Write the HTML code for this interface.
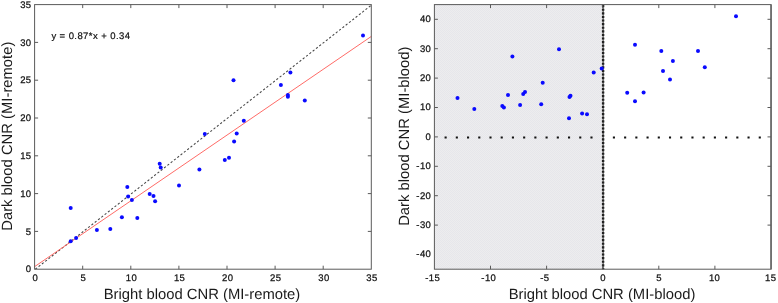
<!DOCTYPE html>
<html><head><meta charset="utf-8"><title>CNR scatter plots</title>
<style>
html,body{margin:0;padding:0;background:#fff;}
body{width:778px;height:303px;overflow:hidden;}
svg{display:block;text-rendering:geometricPrecision;font-family:"Liberation Sans",Arial,sans-serif;}
.t{font-size:9.5px;fill:#111;letter-spacing:0.4px;stroke:#111;stroke-width:0.25px;}
.e{font-size:9.5px;fill:#111;letter-spacing:0.42px;stroke:#111;stroke-width:0.2px;}
.l{font-size:14.8px;fill:#1a1a1a;}
</style></head><body>
<svg width="778" height="303" viewBox="0 0 778 303">
<defs><pattern id="gp" width="2" height="2" patternUnits="userSpaceOnUse"><rect width="2" height="2" fill="#ededee"/><rect width="1" height="1" fill="#e6e6eb"/><rect x="1" y="1" width="1" height="1" fill="#e6e6eb"/></pattern></defs>
<rect x="0" y="0" width="778" height="303" fill="#fff"/>
<g>
<line x1="35.3" y1="269.2" x2="371" y2="5.4" stroke="#444" stroke-width="1.05" stroke-dasharray="2.2 2"/>
<line x1="34.6" y1="266.63" x2="371.3" y2="36.43" stroke="#ff5a56" stroke-width="0.9"/>
<rect x="34.6" y="4.6" width="336.7" height="264.6" fill="none" stroke="#5a5a5a" stroke-width="1"/>
<path d="M82.7 269.2v-3.5M82.7 4.6v3.5M34.6 231.4h3.5M371.3 231.4h-3.5M130.8 269.2v-3.5M130.8 4.6v3.5M34.6 193.6h3.5M371.3 193.6h-3.5M178.9 269.2v-3.5M178.9 4.6v3.5M34.6 155.8h3.5M371.3 155.8h-3.5M227 269.2v-3.5M227 4.6v3.5M34.6 118h3.5M371.3 118h-3.5M275.1 269.2v-3.5M275.1 4.6v3.5M34.6 80.2h3.5M371.3 80.2h-3.5M323.2 269.2v-3.5M323.2 4.6v3.5M34.6 42.4h3.5M371.3 42.4h-3.5" stroke="#5a5a5a" stroke-width="1" fill="none"/>
<text class="t" x="35.3" y="280.7" text-anchor="middle">0</text>
<text class="t" x="31.5" y="272.4" text-anchor="end">0</text>
<text class="t" x="83.4" y="280.7" text-anchor="middle">5</text>
<text class="t" x="31.5" y="234.6" text-anchor="end">5</text>
<text class="t" x="131.5" y="280.7" text-anchor="middle">10</text>
<text class="t" x="31.5" y="196.8" text-anchor="end">10</text>
<text class="t" x="179.6" y="280.7" text-anchor="middle">15</text>
<text class="t" x="31.5" y="159" text-anchor="end">15</text>
<text class="t" x="227.7" y="280.7" text-anchor="middle">20</text>
<text class="t" x="31.5" y="121.2" text-anchor="end">20</text>
<text class="t" x="275.8" y="280.7" text-anchor="middle">25</text>
<text class="t" x="31.5" y="83.4" text-anchor="end">25</text>
<text class="t" x="323.9" y="280.7" text-anchor="middle">30</text>
<text class="t" x="31.5" y="45.6" text-anchor="end">30</text>
<text class="t" x="372" y="280.7" text-anchor="middle">35</text>
<text class="t" x="31.5" y="7.8" text-anchor="end">35</text>
<circle cx="70.7" cy="208" r="2" fill="#0a0aff"/>
<circle cx="70.7" cy="241.2" r="2" fill="#0a0aff"/>
<circle cx="76.1" cy="238.1" r="2" fill="#0a0aff"/>
<circle cx="96.9" cy="229.9" r="2" fill="#0a0aff"/>
<circle cx="110.3" cy="229.1" r="2" fill="#0a0aff"/>
<circle cx="121.9" cy="217.2" r="2" fill="#0a0aff"/>
<circle cx="137.3" cy="218" r="2" fill="#0a0aff"/>
<circle cx="127.3" cy="187.1" r="2" fill="#0a0aff"/>
<circle cx="128.1" cy="196.4" r="2" fill="#0a0aff"/>
<circle cx="131.9" cy="200" r="2" fill="#0a0aff"/>
<circle cx="149.7" cy="194.1" r="2" fill="#0a0aff"/>
<circle cx="153.5" cy="195.9" r="2" fill="#0a0aff"/>
<circle cx="155.1" cy="201.3" r="2" fill="#0a0aff"/>
<circle cx="159.7" cy="163.7" r="2" fill="#0a0aff"/>
<circle cx="160.7" cy="167.6" r="2" fill="#0a0aff"/>
<circle cx="179" cy="185.6" r="2" fill="#0a0aff"/>
<circle cx="199.4" cy="169.4" r="2" fill="#0a0aff"/>
<circle cx="204.8" cy="133.9" r="2" fill="#0a0aff"/>
<circle cx="224.8" cy="160.1" r="2" fill="#0a0aff"/>
<circle cx="229" cy="157.8" r="2" fill="#0a0aff"/>
<circle cx="234.1" cy="141.6" r="2" fill="#0a0aff"/>
<circle cx="236.7" cy="133.6" r="2" fill="#0a0aff"/>
<circle cx="363" cy="35.5" r="2" fill="#0a0aff"/>
<circle cx="290.4" cy="72.6" r="2" fill="#0a0aff"/>
<circle cx="233.5" cy="80.3" r="2" fill="#0a0aff"/>
<circle cx="280.9" cy="85" r="2" fill="#0a0aff"/>
<circle cx="287.9" cy="95" r="2" fill="#0a0aff"/>
<circle cx="287.9" cy="96.8" r="2" fill="#0a0aff"/>
<circle cx="304.8" cy="100.4" r="2" fill="#0a0aff"/>
<circle cx="243.8" cy="120.7" r="2" fill="#0a0aff"/>
<text class="e" x="51.4" y="39.4">y = 0.87*x + 0.34</text>
<text class="l" x="202" y="298.6" text-anchor="middle">Bright blood CNR (MI-remote)</text>
<text class="l" transform="translate(12 136.2) rotate(-90)" text-anchor="middle">Dark blood CNR (MI-remote)</text>
</g>
<g>
<rect x="434.4" y="4.6" width="167.5" height="264.6" fill="url(#gp)"/>
<path d="M444.57 137.5h2.1M455.79 137.5h2.1M467.01 137.5h2.1M478.23 137.5h2.1M489.45 137.5h2.1M500.67 137.5h2.1M511.89 137.5h2.1M523.11 137.5h2.1M534.33 137.5h2.1M545.55 137.5h2.1M556.77 137.5h2.1M567.99 137.5h2.1M579.21 137.5h2.1M590.43 137.5h2.1M612.87 137.5h2.1M624.09 137.5h2.1M635.31 137.5h2.1M646.53 137.5h2.1M657.75 137.5h2.1M668.97 137.5h2.1M680.19 137.5h2.1M691.41 137.5h2.1M702.63 137.5h2.1M713.85 137.5h2.1M725.07 137.5h2.1M736.29 137.5h2.1M747.51 137.5h2.1M758.73 137.5h2.1" stroke="#111" stroke-width="2.1" fill="none"/>
<line x1="603.1" y1="5.1" x2="603.1" y2="269.2" stroke="#111" stroke-width="2.4" stroke-dasharray="2.1 1.5"/>
<line x1="603.1" y1="5.1" x2="603.1" y2="269.2" stroke="#333" stroke-width="1"/>
<rect x="434.4" y="4.6" width="336.6" height="264.6" fill="none" stroke="#5a5a5a" stroke-width="1"/>
<line x1="771.1" y1="4.6" x2="771.1" y2="269.2" stroke="#666" stroke-width="1.5"/>
<path d="M490.5 269.2v-3.5M490.5 4.6v3.5M546.6 269.2v-3.5M546.6 4.6v3.5M602.7 269.2v-3.5M602.7 4.6v3.5M658.8 269.2v-3.5M658.8 4.6v3.5M714.9 269.2v-3.5M714.9 4.6v3.5M434.4 19.3h3.5M771 19.3h-3.5M434.4 48.7h3.5M771 48.7h-3.5M434.4 78.1h3.5M771 78.1h-3.5M434.4 107.5h3.5M771 107.5h-3.5M434.4 136.9h3.5M771 136.9h-3.5M434.4 166.3h3.5M771 166.3h-3.5M434.4 195.7h3.5M771 195.7h-3.5M434.4 225.1h3.5M771 225.1h-3.5" stroke="#5a5a5a" stroke-width="1" fill="none"/>
<text class="t" x="432.7" y="280.7" text-anchor="middle">-15</text>
<text class="t" x="488.8" y="280.7" text-anchor="middle">-10</text>
<text class="t" x="544.9" y="280.7" text-anchor="middle">-5</text>
<text class="t" x="603.2" y="280.7" text-anchor="middle">0</text>
<text class="t" x="659.1" y="280.7" text-anchor="middle">5</text>
<text class="t" x="714.6" y="280.7" text-anchor="middle">10</text>
<text class="t" x="770.7" y="280.7" text-anchor="middle">15</text>
<text class="t" x="431.3" y="22.2" text-anchor="end">40</text>
<text class="t" x="431.3" y="51.6" text-anchor="end">30</text>
<text class="t" x="431.3" y="81" text-anchor="end">20</text>
<text class="t" x="431.3" y="110.4" text-anchor="end">10</text>
<text class="t" x="431.3" y="139.8" text-anchor="end">0</text>
<text class="t" x="431.3" y="169.2" text-anchor="end">-10</text>
<text class="t" x="431.3" y="198.6" text-anchor="end">-20</text>
<text class="t" x="431.3" y="228" text-anchor="end">-30</text>
<text class="t" x="431.3" y="257.4" text-anchor="end">-40</text>
<circle cx="512.4" cy="56.4" r="2" fill="#0a0aff"/>
<circle cx="559" cy="49.2" r="2" fill="#0a0aff"/>
<circle cx="593.7" cy="72.6" r="2" fill="#0a0aff"/>
<circle cx="601.7" cy="68.6" r="2" fill="#0a0aff"/>
<circle cx="457.5" cy="98.1" r="2" fill="#0a0aff"/>
<circle cx="474.3" cy="108.9" r="2" fill="#0a0aff"/>
<circle cx="502.3" cy="106.1" r="2" fill="#0a0aff"/>
<circle cx="503.9" cy="107.4" r="2" fill="#0a0aff"/>
<circle cx="508" cy="95" r="2" fill="#0a0aff"/>
<circle cx="520.1" cy="105" r="2" fill="#0a0aff"/>
<circle cx="523.2" cy="94" r="2" fill="#0a0aff"/>
<circle cx="525" cy="91.9" r="2" fill="#0a0aff"/>
<circle cx="541.2" cy="104.3" r="2" fill="#0a0aff"/>
<circle cx="542.7" cy="82.7" r="2" fill="#0a0aff"/>
<circle cx="569.5" cy="97.1" r="2" fill="#0a0aff"/>
<circle cx="570.5" cy="95.8" r="2" fill="#0a0aff"/>
<circle cx="569" cy="118.2" r="2" fill="#0a0aff"/>
<circle cx="582.1" cy="113.5" r="2" fill="#0a0aff"/>
<circle cx="587" cy="114.3" r="2" fill="#0a0aff"/>
<circle cx="627.2" cy="92.7" r="2" fill="#0a0aff"/>
<circle cx="736" cy="16.2" r="2" fill="#0a0aff"/>
<circle cx="635" cy="44.7" r="2" fill="#0a0aff"/>
<circle cx="661.3" cy="51" r="2" fill="#0a0aff"/>
<circle cx="698" cy="51" r="2" fill="#0a0aff"/>
<circle cx="672.9" cy="60.9" r="2" fill="#0a0aff"/>
<circle cx="704.8" cy="67.2" r="2" fill="#0a0aff"/>
<circle cx="663" cy="71" r="2" fill="#0a0aff"/>
<circle cx="670" cy="79.6" r="2" fill="#0a0aff"/>
<circle cx="643.6" cy="92.6" r="2" fill="#0a0aff"/>
<circle cx="635" cy="101.3" r="2" fill="#0a0aff"/>
<text class="l" x="602" y="298.8" text-anchor="middle">Bright blood CNR (MI-blood)</text>
<text class="l" transform="translate(409.4 136.2) rotate(-90)" text-anchor="middle">Dark blood CNR (MI-blood)</text>
</g>
</svg></body></html>
